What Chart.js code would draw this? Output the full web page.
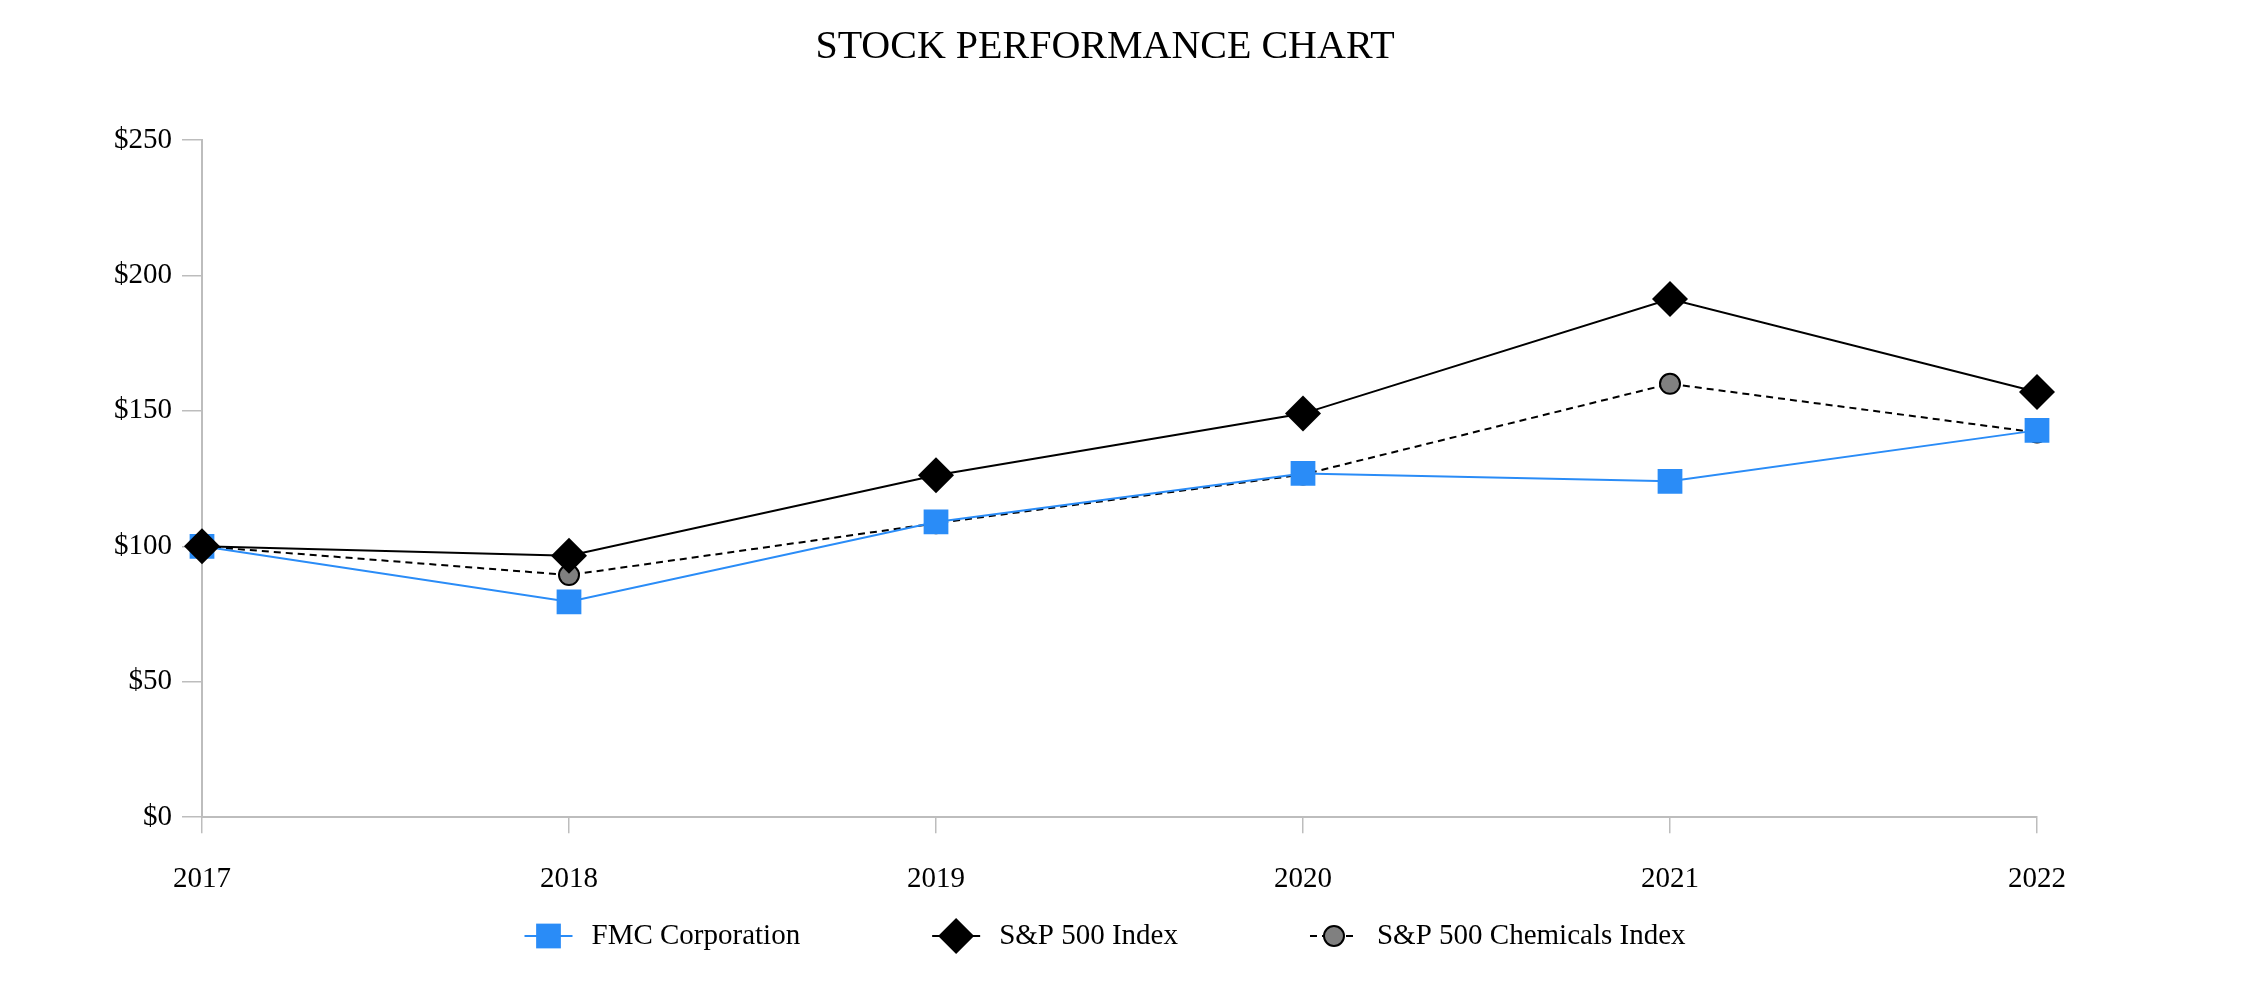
<!DOCTYPE html>
<html>
<head>
<meta charset="utf-8">
<script src="https://cdn.jsdelivr.net/npm/chart.js@4/dist/chart.umd.min.js"></script>
<style>
  html, body { margin: 0; padding: 0; background: #fff; }
  #wrap { width: 2260px; height: 1002px; position: relative; }
</style>
</head>
<body>
<div id="wrap"><canvas id="chart"></canvas></div>
<script>
// values
var years = ['2017', '2018', '2019', '2020', '2021', '2022'];
var fmcValues = [100, 79.5, 109, 126.9, 124, 142.8];
var sp500Values = [100, 96.5, 126.2, 149, 191.3, 157];
var chemValues = [100, 89.4, 108.5, 126.5, 160, 142];
var yTicks = [0, 50, 100, 150, 200, 250];

var serif = '"Liberation Serif", "Times New Roman", serif';
var axisGray = '#bdbdbd';
var blue = '#2a8cf7';

// legend: short line sample with the marker on it, then the label
const lineLegend = {
  id: 'lineLegend',
  afterDraw(chart) {
    const ctx = chart.ctx;
    const sets = chart.data.datasets;
    const y = chart.height - 66;
    const sw = 48, gap = 19, itemGap = 132;
    ctx.save();
    ctx.font = '29px ' + serif;
    const widths = sets.map(d => ctx.measureText(d.label).width);
    let total = sets.length * (sw + gap) + (sets.length - 1) * itemGap;
    widths.forEach(w => total += w);
    let x = (chart.titleBlock.left + chart.titleBlock.right) / 2 - total / 2;
    sets.forEach((d, i) => {
      ctx.strokeStyle = d.borderColor;
      ctx.lineWidth = d.borderWidth;
      ctx.setLineDash(d.borderDash || []);
      ctx.beginPath();
      ctx.moveTo(x, y);
      ctx.lineTo(x + sw, y);
      ctx.stroke();
      ctx.setLineDash([]);
      ctx.fillStyle = d.pointBackgroundColor;
      ctx.strokeStyle = d.pointBorderColor;
      ctx.lineWidth = d.pointBorderWidth;
      Chart.helpers.drawPoint(ctx, {
        pointStyle: d.pointStyle, radius: d.pointRadius,
        borderWidth: d.pointBorderWidth, rotation: 0
      }, x + sw / 2, y);
      ctx.fillStyle = '#000';
      ctx.textAlign = 'left';
      ctx.textBaseline = 'middle';
      ctx.fillText(d.label, x + sw + gap, y);
      x += sw + gap + widths[i] + itemGap;
    });
    ctx.restore();
  }
};

const myChart = new Chart('chart', {
  type: 'line',
  data: {
    labels: years,
    datasets: [{
      label: 'FMC Corporation',
      data: fmcValues,
      order: 1,
      borderColor: blue,
      borderWidth: 2,
      pointStyle: 'rect',
      pointRadius: 17.5,
      pointBackgroundColor: blue,
      pointBorderColor: blue,
      pointBorderWidth: 0,
      tension: 0
    }, {
      label: 'S&P 500 Index',
      data: sp500Values,
      order: 0,
      borderColor: '#000',
      borderWidth: 2,
      pointStyle: 'rectRot',
      pointRadius: 18,
      pointBackgroundColor: '#000',
      pointBorderColor: '#000',
      pointBorderWidth: 0,
      tension: 0
    }, {
      label: 'S&P 500 Chemicals Index',
      data: chemValues,
      order: 2,
      borderColor: '#000',
      borderWidth: 2,
      borderDash: [7, 5],
      pointStyle: 'circle',
      pointRadius: 10,
      pointBackgroundColor: '#808080',
      pointBorderColor: '#000',
      pointBorderWidth: 2,
      tension: 0
    }]
  },
  options: {
    responsive: true,
    maintainAspectRatio: false,
    animation: false,
    layout: { padding: { left: 0, right: 50, top: 0, bottom: 76 } },
    plugins: {
      legend: { display: false },
      tooltip: { enabled: false },
      title: {
        display: true,
        text: 'STOCK PERFORMANCE CHART',
        color: '#000',
        font: { family: serif, size: 40, weight: 'normal' },
        padding: { top: 23, bottom: 69 }
      }
    },
    scales: {
      x: {
        offset: false,
        grid: { drawOnChartArea: false, drawTicks: true, tickLength: 16, color: axisGray, lineWidth: 1.5 },
        border: { display: true, color: axisGray, width: 2 },
        ticks: { color: '#000', font: { family: serif, size: 29 }, padding: 29, maxRotation: 0 },
        afterFit: s => { s.paddingRight = 223; }
      },
      y: {
        min: 0,
        max: 250,
        afterBuildTicks: s => { s.ticks = yTicks.map(v => ({ value: v })); },
        grid: { drawOnChartArea: false, drawTicks: true, tickLength: 20, color: axisGray, lineWidth: 1.5 },
        border: { display: true, color: axisGray, width: 2 },
        ticks: { color: '#000', font: { family: serif, size: 29 }, padding: 10, callback: v => '$' + v },
        afterFit: s => { s.width = 202; }
      }
    }
  },
  plugins: [lineLegend]
});
</script>
</body>
</html>
